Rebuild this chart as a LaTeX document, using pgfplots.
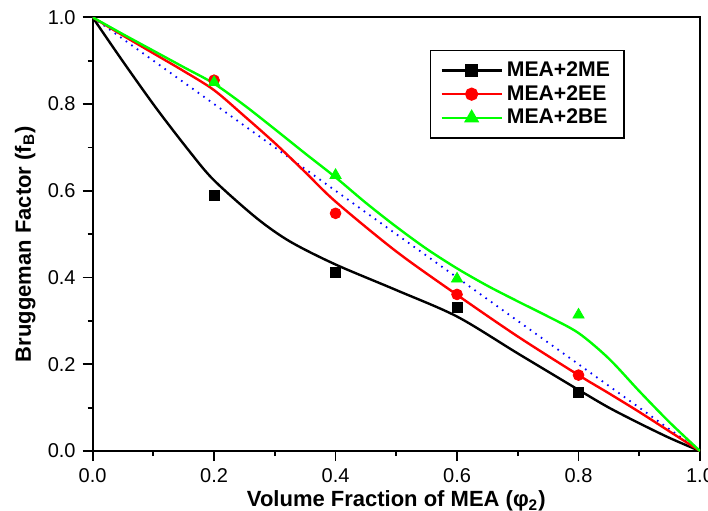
\documentclass[border=0pt]{standalone}
\usepackage{pgfplots}
\pgfplotsset{compat=1.18}
\usepackage{fontspec}
\setmainfont{Liberation Sans}

\begin{document}
\begin{tikzpicture}
  \begin{axis}[
    name=ax,
    scale only axis,
    width=303.7bp, height=216.85bp,
    xmin=0, xmax=1, ymin=0, ymax=1,
    xtick={0,0.2,...,1}, ytick={0,0.2,...,1},
    minor tick num=1,
    tick align=outside,
    xtick pos=bottom, ytick pos=left,
    major tick length=5bp, minor tick length=2.5bp,
    axis line style={line width=1bp},
    every tick/.style={black, line width=0.9bp},
    /pgf/number format/assume math mode=true,
    /pgf/number format/.cd, fixed, fixed zerofill, precision=1, /pgfplots/.cd,
    tick label style={font=\fontsize{10bp}{12bp}\selectfont},
    xlabel={\textbf{Volume Fraction of MEA (φ\textsubscript{2})}},
    ylabel={\textbf{Bruggeman Factor (f\textsubscript{B})}},
    label style={font=\fontsize{11bp}{13bp}\selectfont},
    xlabel style={at={(axis description cs:0.5,-0.116)}, anchor=center},
    ylabel style={at={(axis description cs:-0.111,0.477)}, anchor=center},
    legend style={at={(axis description cs:0.555,0.925)}, anchor=north west,
      font=\fontsize{10.6bp}{13.5bp}\selectfont\bfseries, draw=black, line width=0.7bp,
      inner xsep=5bp, inner ysep=3.5bp, row sep=-1bp},
    legend cell align=left,
    legend image code/.code={
      \draw[#1, mark repeat=2, mark phase=2]
        plot coordinates {(0cm,0cm) (0.53cm,0cm) (1.06cm,0cm)};},
  ]
    % reference line y = 1 - x
    \addplot[blue, line width=0.9bp, dash pattern=on 0.8bp off 2.6bp, forget plot]
      coordinates {(0,1) (1,0)};

    % fitted curves
    \addplot[black, line width=1.2bp, smooth, forget plot] coordinates {
      (0,1) (0.05,0.898) (0.105,0.79) (0.16,0.69) (0.2,0.624) (0.27,0.537)
      (0.325,0.483) (0.4,0.43) (0.5,0.371) (0.6,0.31) (0.7,0.225) (0.8,0.141)
      (0.85,0.1) (0.9,0.064) (0.95,0.03) (1,0)};
    \addplot[red, line width=1.2bp, smooth, forget plot] coordinates {
      (0,1) (0.05,0.958) (0.1,0.917) (0.15,0.876) (0.2,0.832) (0.25,0.772)
      (0.3,0.71) (0.35,0.643) (0.4,0.575) (0.5,0.46) (0.6,0.36) (0.7,0.264)
      (0.8,0.175) (0.85,0.133) (0.9,0.09) (0.95,0.045) (1,0)};
    \addplot[green, line width=1.2bp, smooth, forget plot] coordinates {
      (0,1) (0.05,0.961) (0.1,0.923) (0.15,0.885) (0.2,0.847) (0.25,0.797)
      (0.3,0.742) (0.35,0.686) (0.4,0.631) (0.45,0.572) (0.5,0.517) (0.55,0.466)
      (0.6,0.421) (0.65,0.381) (0.7,0.345) (0.75,0.31) (0.8,0.272) (0.85,0.213)
      (0.9,0.138) (0.95,0.066) (1,0)};

    % experimental points
    \addplot[only marks, mark=square*, black, mark size=2.5bp, forget plot] coordinates {
      (0.2,0.59) (0.4,0.412) (0.6,0.331) (0.8,0.134)};
    \addplot[only marks, mark=*, red, mark size=2.7bp, forget plot] coordinates {
      (0.2,0.855) (0.4,0.548) (0.6,0.361) (0.8,0.175)};
    \addplot[only marks, mark=triangle*, green, mark size=3.2bp, forget plot] coordinates {
      (0.2,0.85) (0.4,0.636) (0.6,0.397) (0.8,0.314)};

    \addlegendimage{black, line width=1.2bp, mark=square*, mark size=2.5bp}
    \addlegendentry{MEA+2ME}
    \addlegendimage{red, line width=1.2bp, mark=*, mark size=2.7bp}
    \addlegendentry{MEA+2EE}
    \addlegendimage{green, line width=1.2bp, mark=triangle*, mark size=3.2bp}
    \addlegendentry{MEA+2BE}
  \end{axis}
  \pgfresetboundingbox
  \path[use as bounding box] ([shift={(-46.3bp,-30bp)}]ax.south west)
    rectangle ([shift={(307.7bp,225.5bp)}]ax.south west);
\end{tikzpicture}
\end{document}
